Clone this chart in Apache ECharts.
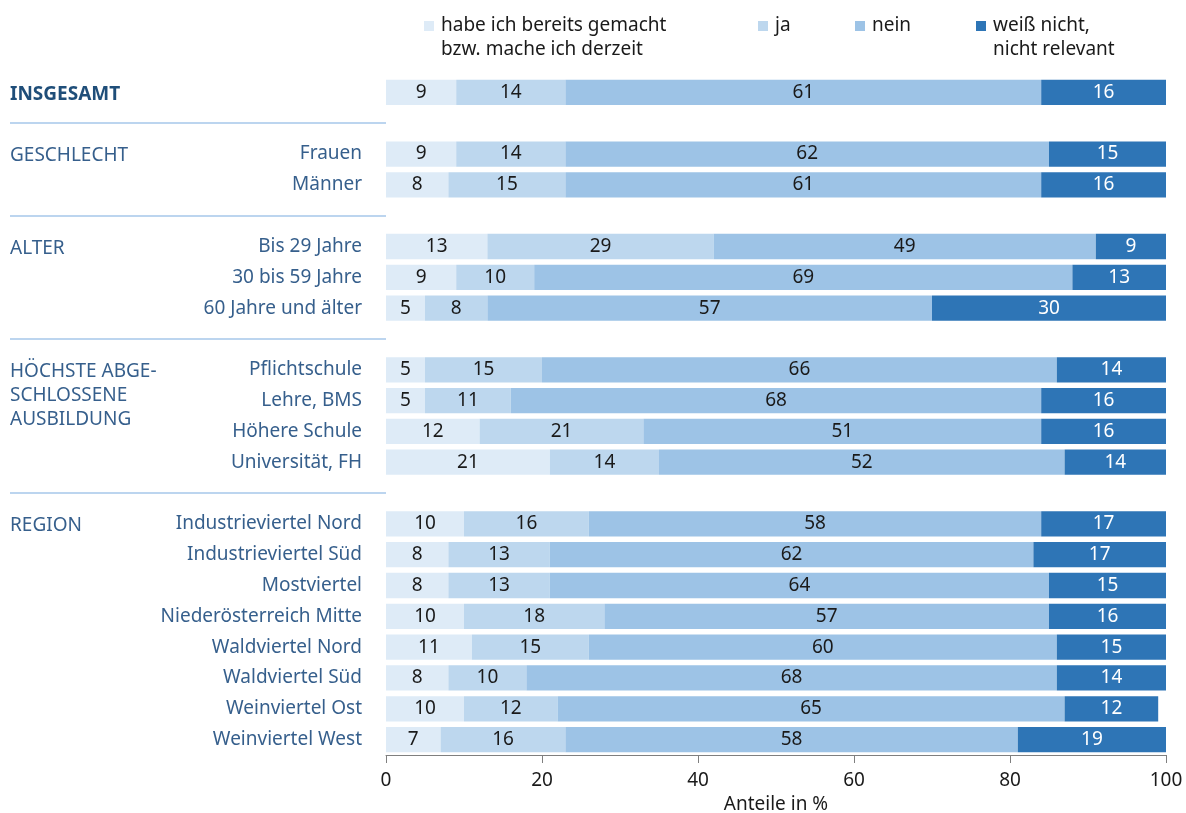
<!DOCTYPE html>
<html>
<head>
<meta charset="utf-8">
<script src="https://cdn.jsdelivr.net/npm/echarts@6/dist/echarts.min.js"></script>
<style>
  html, body { margin: 0; padding: 0; background: #fff; }
  #chart { width: 1186px; height: 813px; }
</style>
</head>
<body>
<div id="chart"></div>
<script>
// Survey answers in percent, one entry per row (top to bottom)
const groupNames = ['INSGESAMT', 'GESCHLECHT', 'ALTER', 'HÖCHSTE ABGE-\nSCHLOSSENE\nAUSBILDUNG', 'REGION'];
const groupSizes = [1, 2, 3, 4, 8];
const rowLabels = [
  '',
  'Frauen', 'Männer',
  'Bis 29 Jahre', '30 bis 59 Jahre', '60 Jahre und älter',
  'Pflichtschule', 'Lehre, BMS', 'Höhere Schule', 'Universität, FH',
  'Industrieviertel Nord', 'Industrieviertel Süd', 'Mostviertel', 'Niederösterreich Mitte',
  'Waldviertel Nord', 'Waldviertel Süd', 'Weinviertel Ost', 'Weinviertel West'
];
const seriesNames = [
  'habe ich bereits gemacht\nbzw. mache ich derzeit',
  'ja',
  'nein',
  'weiß nicht,\nnicht relevant'
];
const bereitsGemacht = [9, 9, 8, 13, 9, 5, 5, 5, 12, 21, 10, 8, 8, 10, 11, 8, 10, 7];
const ja             = [14, 14, 15, 29, 10, 8, 15, 11, 21, 14, 16, 13, 13, 18, 15, 10, 12, 16];
const nein           = [61, 62, 61, 49, 69, 57, 66, 68, 51, 52, 58, 62, 64, 57, 60, 68, 65, 58];
const weissNicht     = [16, 15, 16, 9, 13, 30, 14, 16, 16, 14, 17, 17, 15, 16, 15, 14, 12, 19];
const xTicks = [0, 20, 40, 60, 80, 100];

const seriesValues = [bereitsGemacht, ja, nein, weissNicht];
const seriesColors = ['#deebf7', '#bdd7ee', '#9dc3e6', '#2e75b6'];
const labelColors = ['#1a1a1a', '#1a1a1a', '#1a1a1a', '#ffffff'];
const legendIconX = [424, 758, 855, 976];

// Lay out the rows with an empty slot between the groups
const slots = [];      // each: {row: index or -1, group: index or -1, sep: bool}
let row = 0;
groupSizes.forEach((size, g) => {
  if (g > 0) slots.push({ row: -1, group: -1, sep: true });
  for (let k = 0; k < size; k++) {
    slots.push({ row: row, group: k === 0 ? g : -1, sep: false });
    row++;
  }
});
const slotKeys = slots.map((s, i) => 'slot' + i);

const FONT = 'Noto Sans';
const FS = 19;
const LABEL_BLUE = '#365f8c';

function groupText(i) {
  const s = slots[i];
  if (s.group < 0) return '';
  const name = groupNames[s.group];
  if (s.group === 0) return '{b|' + name + '}';
  const lines = name.split('\n');
  // keep the first line on the row, further lines run downwards
  return '\n'.repeat(lines.length - 1) + name;
}

const chart = echarts.init(document.getElementById('chart'), null, { renderer: 'canvas' });

const option = {
  animation: false,
  textStyle: { fontFamily: FONT },
  legend: seriesNames.map((name, i) => ({
    data: [name],
    left: legendIconX[i] - 5,
    top: name.indexOf('\n') >= 0 ? -15 : 9,
    orient: 'horizontal',
    icon: 'rect',
    itemWidth: 10,
    itemHeight: 10,
    itemGap: 0,
    selectedMode: false,
    textStyle: {
      fontFamily: FONT, fontSize: FS, color: '#1a1a1a', lineHeight: 24,
      padding: [0, 0, 0, 2]
    },
    formatter: n => (n.indexOf('\n') >= 0 ? '\n' + n : n)
  })),
  grid: {
    left: 386, right: 20, top: 77, bottom: 58,
    outerBoundsMode: 'none'
  },
  xAxis: {
    type: 'value',
    min: 0, max: 100, interval: 20,
    axisLine: { show: true, lineStyle: { color: '#7f7f7f', width: 1 } },
    axisTick: { show: true, length: 8, lineStyle: { color: '#7f7f7f' } },
    splitLine: { show: false },
    axisLabel: {
      fontFamily: FONT, fontSize: FS, color: '#1a1a1a', margin: 16,
      formatter: v => (xTicks.indexOf(v) >= 0 ? String(v) : '')
    },
    name: 'Anteile in %',
    nameLocation: 'middle',
    nameGap: 38,
    nameTextStyle: { fontFamily: FONT, fontSize: FS, color: '#1a1a1a' }
  },
  yAxis: [
    {
      type: 'category',
      inverse: true,
      data: slotKeys,
      axisLine: { show: false },
      axisTick: { show: false },
      axisLabel: {
        interval: 0, margin: 24,
        padding: [4, 0, 0, 0],
        fontFamily: FONT, fontSize: FS, color: LABEL_BLUE,
        formatter: (v, i) => {
          const s = slots[i];
          return s.row >= 0 ? rowLabels[s.row] : '';
        }
      }
    },
    {
      type: 'category',
      inverse: true,
      data: slotKeys,
      position: 'left',
      offset: 0,
      axisLine: { show: false },
      axisTick: {
        show: true,
        alignWithLabel: true,
        length: 376,
        interval: (i) => slots[i].sep,
        lineStyle: { color: '#a6c8ea', width: 1.5 }
      },
      axisLabel: {
        interval: 0, margin: 376, align: 'left',
        padding: [4, 0, 0, 0],
        fontFamily: FONT, fontSize: FS, color: LABEL_BLUE, lineHeight: 24,
        formatter: (v, i) => groupText(i),
        rich: {
          b: { fontFamily: FONT, fontSize: FS, fontWeight: 'bold', color: '#1f4e79' }
        }
      }
    }
  ],
  series: seriesNames.map((name, si) => ({
    name: name,
    type: 'bar',
    stack: 'total',
    yAxisIndex: 0,
    barCategoryGap: '18%',
    itemStyle: { color: seriesColors[si] },
    label: {
      show: true,
      position: 'inside',
      fontFamily: FONT,
      fontSize: FS,
      color: labelColors[si],
      padding: [2, 0, 0, 0],
      formatter: p => String(p.value)
    },
    emphasis: { disabled: true },
    data: slots.map(s => (s.row >= 0 ? seriesValues[si][s.row] : '-'))
  }))
};

chart.setOption(option);
</script>
</body>
</html>
